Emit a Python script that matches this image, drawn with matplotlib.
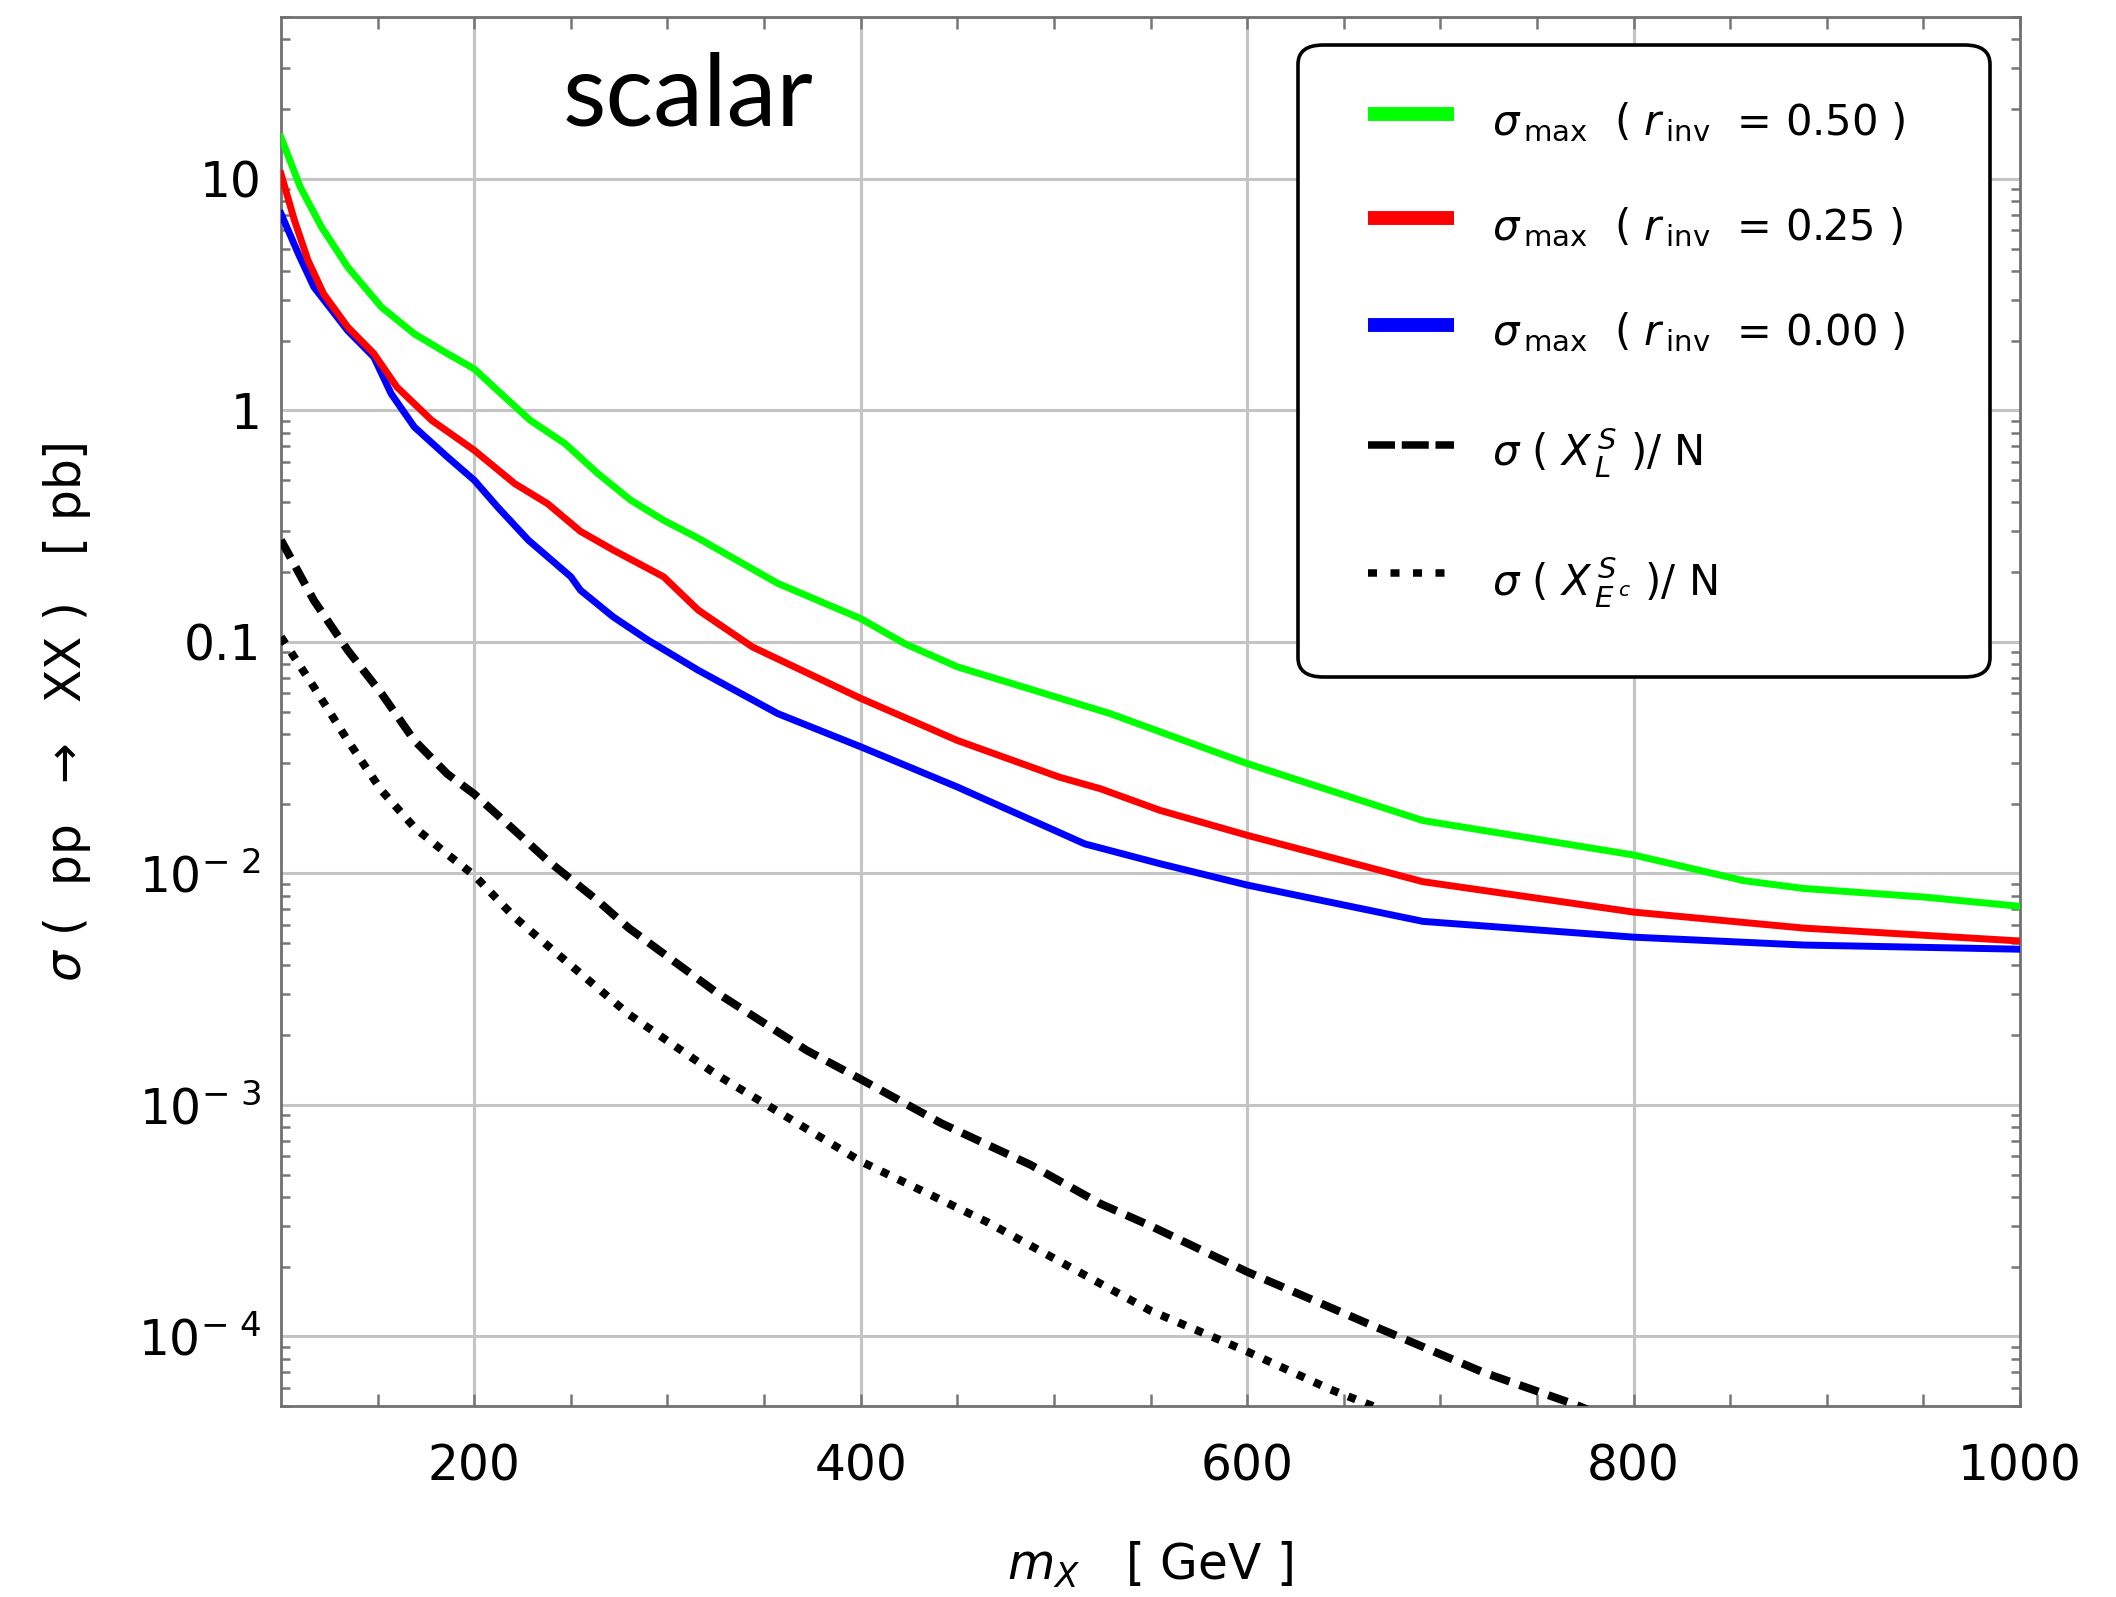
import matplotlib
matplotlib.use("Agg")
import matplotlib.pyplot as plt
from matplotlib.lines import Line2D
from matplotlib.patches import FancyBboxPatch
from matplotlib.ticker import FixedLocator, FixedFormatter, NullFormatter

# sigma_max, r_inv = 0.50
m_green = [100, 110, 121, 134.5, 152, 169, 186, 200, 212, 229, 247, 264, 281, 298, 316,
           357, 400, 423, 450, 489, 529, 600, 691, 800, 857, 888, 950, 1000]
s_green = [15.1, 9.2, 6.18, 4.16, 2.79, 2.14, 1.76, 1.51, 1.22, 0.905, 0.718, 0.533, 0.409,
           0.335, 0.28, 0.179, 0.126, 0.098, 0.078, 0.062, 0.049, 0.0298, 0.0169, 0.0120,
           0.0093, 0.0086, 0.0079, 0.0072]

# sigma_max, r_inv = 0.25
m_red = [100, 107, 114, 122, 134.5, 148, 160, 178, 200, 221, 238, 255, 272, 298, 316, 344,
         400, 450, 503, 524, 555, 600, 691, 800, 888, 1000]
s_red = [10.5, 6.6, 4.44, 3.19, 2.29, 1.76, 1.26, 0.905, 0.672, 0.482, 0.395, 0.30, 0.249,
         0.191, 0.137, 0.095, 0.057, 0.0375, 0.026, 0.0232, 0.0187, 0.0146, 0.0092, 0.0068,
         0.0058, 0.0051]

# sigma_max, r_inv = 0.00
m_blue = [100, 109, 117, 134.5, 148, 157, 169, 186, 200, 212, 228, 250, 255, 272, 290, 316,
          357, 400, 450, 516, 555, 600, 691, 800, 888, 1000]
s_blue = [7.07, 4.74, 3.41, 2.21, 1.70, 1.18, 0.847, 0.63, 0.499, 0.383, 0.275, 0.191, 0.167,
          0.128, 0.1016, 0.0753, 0.049, 0.0352, 0.0236, 0.0134, 0.011, 0.0089, 0.0062,
          0.0053, 0.0049, 0.0047]

# sigma(X_L^S)/N
m_dash = [100, 117, 134.5, 152, 169, 186, 200, 221, 238, 264, 280, 326, 372, 400, 442, 488,
          524, 550, 600, 663, 722, 771, 790]
s_dash = [0.275, 0.151, 0.092, 0.0598, 0.0375, 0.0269, 0.022, 0.0153, 0.01135, 0.0076, 0.0058,
          0.00303, 0.00172, 0.00129, 0.00083, 0.00055, 0.000374, 0.0003, 0.00019, 0.000113,
          0.00007, 0.0000503, 0.000043]

# sigma(X_Ec^S)/N
m_dot = [100, 117, 134.5, 152, 169, 186, 200, 221, 234, 280, 326, 400, 466, 524, 550, 600,
         643, 665, 680]
s_dot = [0.105, 0.0638, 0.0375, 0.0228, 0.0158, 0.0121, 0.0098, 0.00645, 0.0052, 0.00246,
         0.00134, 0.00057, 0.00031, 0.000169, 0.000129, 0.000086, 0.000059, 0.00005, 0.000044]

y_ticks = [1e-4, 1e-3, 1e-2, 0.1, 1, 10]
y_labels = [r'$\mathregular{10^{-\ 4}}$', r'$\mathregular{10^{-\ 3}}$',
            r'$\mathregular{10^{-\ 2}}$', '0.1', '1', '10']
x_ticks = [200, 400, 600, 800, 1000]

legend_labels = [
    r'$\sigma_{\,\rm max}$  ( $r_{\,\rm inv}$  = 0.50 )',
    r'$\sigma_{\,\rm max}$  ( $r_{\,\rm inv}$  = 0.25 )',
    r'$\sigma_{\,\rm max}$  ( $r_{\,\rm inv}$  = 0.00 )',
    r'$\sigma$ ( $X^{\,S}_{\,L}$ )/ N',
    r'$\sigma$ ( $X^{\,S}_{\,E^{\,c}}$ )/ N',
]

W, H = 2116, 1597
plt.rcParams['mathtext.fontset'] = 'dejavusans'
fig = plt.figure(figsize=(W / 200, H / 200), dpi=200)


def fx(x):
    return x / W


def fy(y):
    return 1 - y / H


ax = fig.add_axes([fx(281), fy(1406), fx(2020) - fx(281), fy(17) - fy(1406)])
ax.set_yscale('log')
ax.set_xlim(100, 1000)
ax.set_ylim(5e-5, 50)

ax.plot(m_green, s_green, color='#00ff00', lw=2.5, solid_joinstyle='round', zorder=3)
ax.plot(m_red, s_red, color='#ff0000', lw=2.5, solid_joinstyle='round', zorder=3)
ax.plot(m_blue, s_blue, color='#0000ff', lw=2.5, solid_joinstyle='round', zorder=2.9)
ax.plot(m_dash, s_dash, color='black', lw=2.9, ls=(0, (2.5, 1.3)), zorder=3)
ax.plot(m_dot, s_dot, color='black', lw=2.9, ls=(0, (1.0, 1.3)), zorder=3)

# grid
for v in [200, 400, 600, 800]:
    ax.axvline(v, color='#c4c4c4', lw=1.1, zorder=1)
for v in y_ticks:
    ax.axhline(v, color='#c4c4c4', lw=1.1, zorder=1)

ax.yaxis.set_major_locator(FixedLocator(y_ticks))
ax.yaxis.set_major_formatter(FixedFormatter(y_labels))
ax.yaxis.set_minor_locator(FixedLocator([k * 10.0 ** e for e in range(-5, 2) for k in range(2, 10)]))
ax.yaxis.set_minor_formatter(NullFormatter())
ax.xaxis.set_major_locator(FixedLocator(x_ticks))
ax.xaxis.set_minor_locator(FixedLocator(list(range(150, 1000, 50))))

ax.tick_params(which='both', direction='in', top=True, right=True, color='#777777', width=0.9)
ax.tick_params(axis='y', which='major', length=0, labelsize=17.5, pad=7)
ax.tick_params(axis='y', which='minor', length=3.2)
ax.tick_params(axis='x', which='major', length=4.3, labelsize=17.5, pad=13)
ax.tick_params(axis='x', which='minor', length=4.3)

for s in ax.spines.values():
    s.set_color('#707070')
    s.set_linewidth(1.0)

fig.text(fx(1150), fy(1565), r'$m_X$   [ GeV ]', ha='center', va='center', fontsize=17.5)
fig.text(fx(67), fy(712), r'$\sigma$ (  pp  $\rightarrow$  XX )   [ pb]', ha='center',
         va='center', rotation=90, fontsize=17.5)

fig.text(fx(563), fy(125), 'scalar', family='Lato', fontsize=36, ha='left', va='baseline')

# legend box, drawn by hand
box = FancyBboxPatch((fx(1298), fy(677)), fx(1990) - fx(1298), fy(45) - fy(677),
                     boxstyle='round,pad=0,rounding_size=0.012', transform=fig.transFigure,
                     facecolor='white', edgecolor='black', lw=1.3, zorder=5)
fig.add_artist(box)

styles = [
    dict(color='#00ff00', lw=5),
    dict(color='#ff0000', lw=5),
    dict(color='#0000ff', lw=5),
    dict(color='black', lw=2.7, ls=(0, (3.6, 0.9))),
    dict(color='black', lw=2.7, ls=(0, (1.2, 1.8))),
]
line_y = [113.5, 218, 324.5, 445, 573]
base_y = [134.7, 240, 345, 466.5, 597]
for st, ly, by, lab in zip(styles, line_y, base_y, legend_labels):
    fig.add_artist(Line2D([fx(1368), fx(1454)], [fy(ly), fy(ly)], transform=fig.transFigure,
                          solid_capstyle='butt', dash_capstyle='butt', zorder=6, **st))
    fig.text(fx(1492), fy(by), lab, fontsize=15, ha='left', va='baseline', zorder=6)

fig.savefig('out.png', dpi=200)
